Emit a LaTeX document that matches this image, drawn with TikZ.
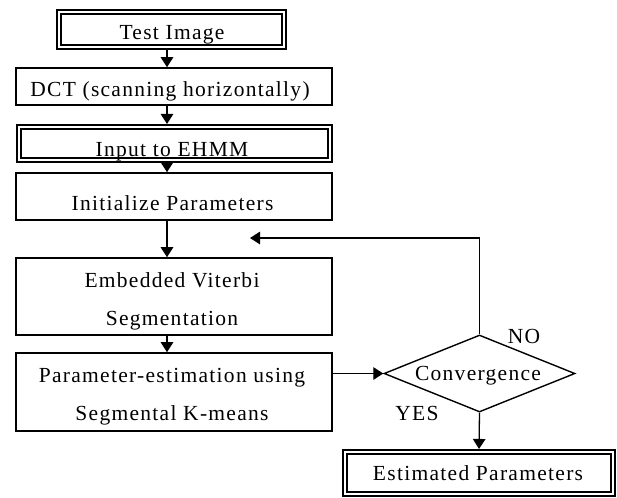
\documentclass[tikz,border=0pt]{standalone}
\usepackage{fontspec}
\setmainfont{Liberation Serif}[LetterSpace=6]
\usetikzlibrary{arrows.meta,shapes.geometric}

\tikzset{
  box/.style={draw, line width=1.6pt, inner sep=0pt, outer sep=0.8pt},
  dblbox/.style={draw, line width=2pt, double, double distance=1.6pt,
    inner sep=0pt, outer sep=2.8pt},
  decision/.style={draw, diamond, line width=1.4pt, inner sep=0pt, outer sep=0.7pt},
  lbl/.style={anchor=base, inner sep=0pt, font=\fontsize{21.5}{26}\selectfont},
  arr/.style={line width=1.3pt, -{Triangle[length=10pt,width=12.5pt]}},
}

\begin{document}
\begin{tikzpicture}[x=1pt,y=-1pt]
\useasboundingbox (0,0) rectangle (617,497);

% boxes
\node[dblbox, minimum width=225.5pt, minimum height=35.5pt] (test) at (171.5,29.5) {};
\node[box, minimum width=316pt, minimum height=37pt] (dct) at (174,86.5) {};
\node[dblbox, minimum width=311.5pt, minimum height=33.5pt] (ehmm) at (174.5,143.5) {};
\node[box, minimum width=316pt, minimum height=47pt] (init) at (174,196.5) {};
\node[box, minimum width=316pt, minimum height=77pt] (vit) at (174,296.5) {};
\node[box, minimum width=316pt, minimum height=78pt] (param) at (174,392) {};
\node[decision, aspect=2.48, minimum width=191pt, minimum height=77pt] (diam) at (479.5,373.5) {};
\node[dblbox, minimum width=268.5pt, minimum height=42.5pt] (est) at (479,473) {};

% texts
\node[lbl] (ttest) at (172,40) {Test Image};
\node[lbl] (tdct) at (170,97) {DCT (scanning horizontally)};
\node[lbl] (tehmm) at (172,157) {Input to EHMM};
\node[lbl] (tinit) at (172.5,210) {Initialize Parameters};
\node[lbl] (tvit1) at (172,287) {Embedded Viterbi};
\node[lbl] (tvit2) at (172,325) {Segmentation};
\node[lbl] (tpar1) at (172,382) {Parameter-estimation using};
\node[lbl] (tpar2) at (172,420) {Segmental K-means};
\node[lbl] (tconv) at (478,380) {Convergence};
\node[lbl] (tno) at (524,343) {NO};
\node[lbl] (tyes) at (417,420) {YES};
\node[lbl] (test2) at (478,480) {Estimated Parameters};

% connectors
\coordinate (col) at (167,0);
\coordinate (back) at (250,238);
\draw[arr] (test.south -| col) -- (dct.north -| col);
\draw[arr] (dct.south -| col) -- (ehmm.north -| col);
\draw[arr] (ehmm.south -| col) -- (init.north -| col);
\draw[arr] (init.south -| col) -- (vit.north -| col);
\draw[arr] (vit.south -| col) -- (param.north -| col);
\draw[arr] (param.east |- diam.west) -- (diam.west);
\draw[arr] (diam.north) |- (back);
\draw[arr] (diam.south) -- (est.north);
\end{tikzpicture}
\end{document}
